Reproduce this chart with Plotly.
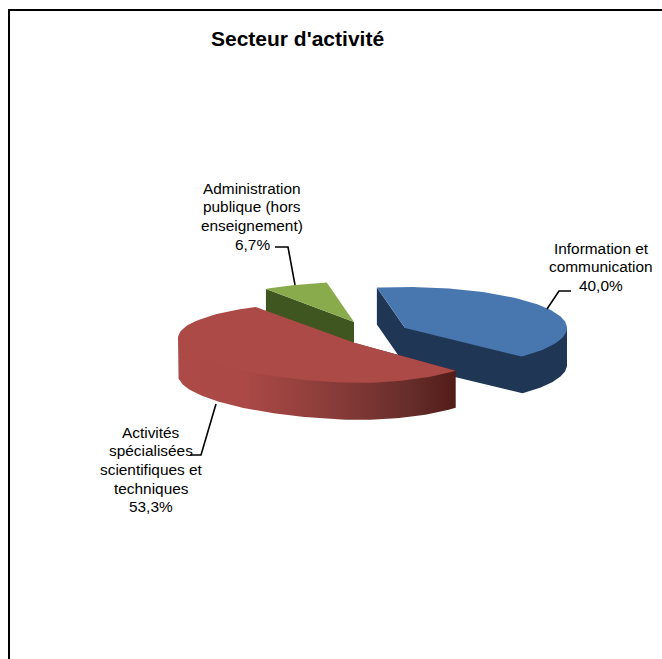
import numpy as np
import plotly.graph_objects as go

# ---- data
categories = ["Information et communication", "Activités spécialisées scientifiques et techniques",
              "Administration publique (hors enseignement)"]
shares = [40.0, 53.3, 6.7]
label_lines = [["Information et", "communication"],
               ["Activités", "spécialisées", "scientifiques et", "techniques"],
               ["Administration", "publique (hors", "enseignement)"]]
title_text = "Secteur d'activité"

# ---- drawing constants (pixel space of the 662x659 page)
W, H = 662, 659
START_DEG = -100.0
DEPTH = 37
apex = [(405, 328), (355, 343), (354, 322)]
radii = [((162, 162), 41), ((140, 177), 40), ((157, 157), 40)]   # ((a_right, a_left), b)
lift_left = [0, 5, 0]
label_pos = [(601, 248), (151, 432), (252, 188)]
leaders = [[(571, 291), (559, 291), (547, 309)],
           [(190, 455), (201, 455), (216, 404)],
           [(275, 247), (288, 247), (295, 285)]]

# angular extents come from the values
fr = np.array(shares) / sum(shares) * 360
starts = START_DEG + np.concatenate([[0], np.cumsum(fr)[:-1]])
ends = starts + fr


def rim(i, t0, t1, dz=0, n=90):
    t = np.radians(np.linspace(t0, t1, n))
    (ar, al), b = radii[i]
    c = np.cos(t)
    x = apex[i][0] + c * np.where(c >= 0, ar, al)
    y = apex[i][1] + np.sin(t) * b + dz + np.where(c < 0, c, 0) * lift_left[i]
    return x, y


def poly(xs, ys, color=None, grad=None):
    kw = dict(x=list(xs), y=list(ys), mode="lines", line=dict(width=0, color="rgba(0,0,0,0)"), fill="toself",
              hoverinfo="skip", showlegend=False)
    if grad:
        kw["fillgradient"] = dict(type="horizontal", colorscale=grad)
    else:
        kw["fillcolor"] = color
    return go.Scatter(**kw)


def top(i, color):
    x, y = rim(i, starts[i], ends[i])
    return poly([apex[i][0], *x, apex[i][0]], [apex[i][1], *y, apex[i][1]], color)


fig = go.Figure()

# blue slice
sx, sy = rim(0, starts[0], starts[0], n=1)
bx, by = rim(0, ends[0], 0, DEPTH)
fig.add_trace(poly([sx[0], sx[0], apex[0][0], *bx, *rim(0, 0, 0, n=1)[0], apex[0][0], sx[0]],
                   [sy[0], sy[0] + DEPTH, apex[0][1] + DEPTH, *by, *rim(0, 0, 0, n=1)[1], apex[0][1], sy[0]],
                   "#1F3654"))
fig.add_trace(top(0, "#4877B0"))

# green slice
sx, sy = rim(2, starts[2], starts[2], n=1)
fig.add_trace(poly([sx[0], sx[0], apex[2][0], apex[2][0], sx[0]],
                   [sy[0], sy[0] + DEPTH, apex[2][1] + DEPTH, apex[2][1], sy[0]], "#3F5620"))
fig.add_trace(top(2, "#8AAB4C"))

# red slice: shaded body reaching under the top face, then top
tx, ty = rim(1, ends[0], ends[0], n=1)
ux, uy = rim(1, 180, 180, n=1)
lx, ly = rim(1, 180, ends[0], DEPTH)
fig.add_trace(poly([tx[0], apex[1][0], ux[0], *lx, tx[0]], [ty[0], apex[1][1], uy[0], *ly, ty[0]],
                   grad=[[0, "#AC4A47"], [0.25, "#AA4946"], [0.6, "#843A37"], [0.85, "#642C29"], [1, "#521C19"]]))
fig.add_trace(top(1, "#AC4A47"))

# leader lines
for pts in leaders:
    fig.add_trace(go.Scatter(x=[p[0] for p in pts], y=[p[1] for p in pts], mode="lines",
                             line=dict(color="black", width=1.6), hoverinfo="skip", showlegend=False))

# labels, one text per line to hold the line pitch
for i, (px, py) in enumerate(label_pos):
    lines = label_lines[i] + [f"{shares[i]:.1f}%".replace(".", ",")]
    for k, txt in enumerate(lines):
        fig.add_annotation(x=px, y=py + k * 18.7, text=txt, showarrow=False, xanchor="center", yanchor="middle",
                           font=dict(family="Liberation Sans", size=15.4, color="black"))

fig.add_annotation(x=297.5, y=38.5, text=f"<b>{title_text}</b>", showarrow=False, xanchor="center", yanchor="middle",
                   font=dict(family="Liberation Sans", size=21, color="black"))

# chart frame: visible on top and left only
fig.add_shape(type="line", x0=8, x1=W, y0=10, y1=10, line=dict(color="black", width=2))
fig.add_shape(type="line", x0=9, x1=9, y0=9, y1=H, line=dict(color="black", width=2))

fig.update_layout(width=W, height=H, margin=dict(l=0, r=0, t=0, b=0), paper_bgcolor="white", plot_bgcolor="white",
                  showlegend=False,
                  xaxis=dict(range=[0, W], visible=False, fixedrange=True),
                  yaxis=dict(range=[H, 0], visible=False, fixedrange=True))
fig.write_html("out.html", config={"displayModeBar": False},
               post_script="document.body.style.margin='0';document.body.style.overflow='hidden';")
